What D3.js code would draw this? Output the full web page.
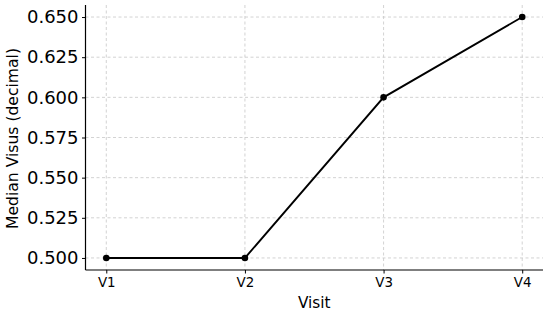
<!DOCTYPE html>
<html><head><meta charset="utf-8">
<script src="https://cdn.jsdelivr.net/npm/d3@7"></script>
<style>body{margin:0;background:#fff}svg{display:block;font-family:"DejaVu Sans",sans-serif}</style>
</head><body><svg id="c" width="550" height="313"></svg>
<script>
const visits = ["V1","V2","V3","V4"];
const medianVisus = [0.50, 0.50, 0.60, 0.65];
const yTicks = [0.500,0.525,0.550,0.575,0.600,0.625,0.650];

const svg = d3.select("#c");
const L=85.5, R=543, T=5, B=270;
const x = d3.scaleLinear().domain([-0.15, 3.15]).range([L,R]);
const y = d3.scaleLinear().domain([0.4925, 0.6575]).range([B,T]);

// grid
const g = svg.append("g");
g.selectAll(".gx").data(visits).enter().append("line")
 .attr("x1",(d,i)=>x(i)).attr("x2",(d,i)=>x(i)).attr("y1",T).attr("y2",B)
 .attr("stroke","#c8c8c8").attr("stroke-width",0.8).attr("stroke-dasharray","3,2.5");
g.selectAll(".gy").data(yTicks).enter().append("line")
 .attr("x1",L).attr("x2",R).attr("y1",d=>y(d)).attr("y2",d=>y(d))
 .attr("stroke","#c8c8c8").attr("stroke-width",0.8).attr("stroke-dasharray","3,2.5");

// axes
const xa = svg.append("g").attr("transform",`translate(0,${B})`)
 .call(d3.axisBottom(x).tickValues([0,1,2,3]).tickFormat(i=>visits[i]).tickSize(3.5).tickPadding(4));
const ya = svg.append("g").attr("transform",`translate(${L},0)`)
 .call(d3.axisLeft(y).tickValues(yTicks).tickFormat(d3.format(".3f")).tickSize(3.5).tickPadding(3.5));
[xa,ya].forEach(a=>{a.select(".domain").attr("stroke","#000").attr("stroke-width",1.2);
 a.selectAll(".tick line").attr("stroke","#000").attr("stroke-width",1);
 a.selectAll("text").attr("fill","#000").attr("font-family","DejaVu Sans");});
xa.selectAll("text").attr("font-size",13.4);
ya.selectAll("text").attr("font-size",18);
xa.select(".domain").attr("d",`M${L},0H${R}`);
ya.select(".domain").attr("d",`M0,${T}V${B}`);

// line
const line = d3.line().x((d,i)=>x(i)).y(d=>y(d));
svg.append("path").datum(medianVisus).attr("d",line).attr("fill","none")
 .attr("stroke","#000").attr("stroke-width",1.9);
svg.selectAll(".pt").data(medianVisus).enter().append("circle")
 .attr("cx",(d,i)=>x(i)).attr("cy",d=>y(d)).attr("r",3.3).attr("fill","#000");

// labels
svg.append("text").attr("x",(L+R)/2).attr("y",307.5).attr("text-anchor","middle")
 .attr("font-size",15.3).text("Visit");
svg.append("text").attr("transform",`translate(18,138.5) rotate(-90)`)
 .attr("text-anchor","middle").attr("font-size",15.6).text("Median Visus (decimal)");
</script></body></html>
